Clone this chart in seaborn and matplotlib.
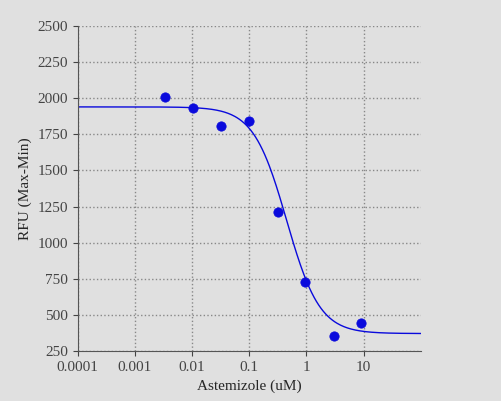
import numpy as np
import matplotlib
matplotlib.use("Agg")
import matplotlib.pyplot as plt
import seaborn as sns
import pandas as pd

# ===== data =====
conc = [0.0034, 0.0105, 0.032, 0.1, 0.32, 0.96, 3.0, 9.0]
rfu = [2010, 1935, 1810, 1845, 1210, 730, 350, 440]
fit_top, fit_bottom, fit_ic50, fit_hill = 1940, 370, 0.45, 1.5

df = pd.DataFrame({"conc": conc, "rfu": rfu})
xs = np.logspace(-4, 2, 300)
fit = pd.DataFrame({"conc": xs,
                    "rfu": fit_bottom + (fit_top - fit_bottom) / (1 + (xs / fit_ic50) ** fit_hill)})

sns.set_style("ticks")
plt.rcParams["font.family"] = ["Liberation Serif", "DejaVu Serif"]
bg = "#e0e0e0"
blue = "#0a0adc"

fig, ax = plt.subplots(figsize=(5.01, 4.01), dpi=100)
fig.patch.set_facecolor(bg)
ax.set_facecolor(bg)

sns.lineplot(data=fit, x="conc", y="rfu", color=blue, lw=1, ax=ax)
sns.scatterplot(data=df, x="conc", y="rfu", color=blue, s=45, edgecolor=blue, ax=ax, zorder=3)

ax.set_xscale("log")
ax.set_xlim(1e-4, 100)
ax.set_ylim(250, 2500)
ax.set_xticks([1e-4, 1e-3, 1e-2, 1e-1, 1, 10])
ax.set_xticklabels(["0.0001", "0.001", "0.01", "0.1", "1", "10"])
ax.set_yticks(range(250, 2501, 250))
ax.minorticks_off()
ax.grid(True, ls=":", color="#888888", lw=1)
ax.set_xlabel("Astemizole (uM)", fontsize=11)
ax.set_ylabel("RFU (Max-Min)", fontsize=11)
ax.tick_params(labelsize=11, colors="#444444")
for s in ["top", "right"]:
    ax.spines[s].set_visible(False)
for s in ["left", "bottom"]:
    ax.spines[s].set_color("#555555")

fig.subplots_adjust(left=0.155, right=0.84, top=0.935, bottom=0.125)
fig.savefig("out.png", dpi=100, facecolor=bg)
